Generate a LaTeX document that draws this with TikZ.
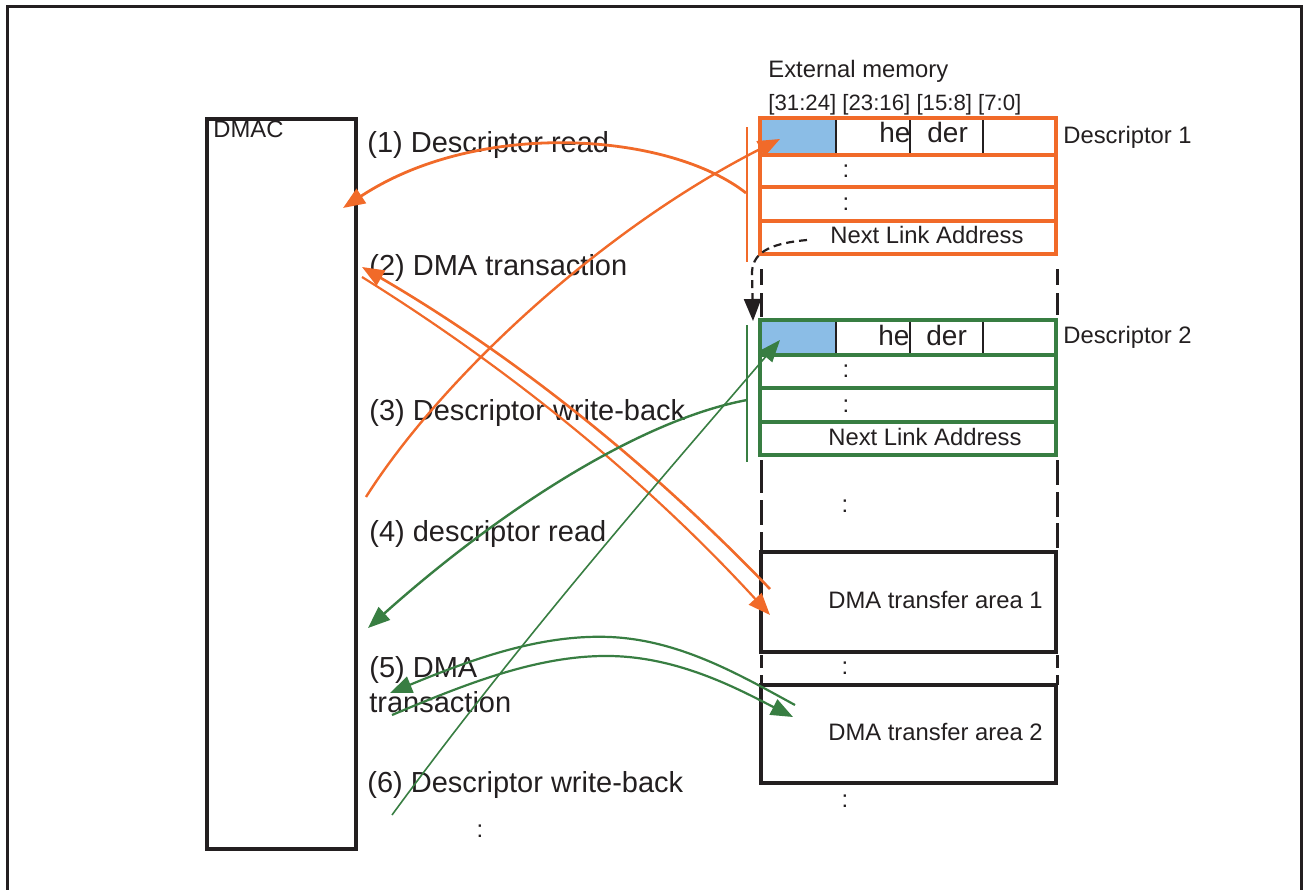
\documentclass[tikz,border=0pt]{standalone}
\usepackage{fontspec}
\setmainfont{Liberation Sans}
\usetikzlibrary{arrows.meta}
\definecolor{orng}{RGB}{241,106,41}
\definecolor{grn}{RGB}{56,126,66}
\definecolor{cellblue}{RGB}{139,189,230}
\definecolor{ink}{RGB}{35,31,32}
\tikzset{
  lbl/.style={inner sep=0pt, anchor=base west, font=\fontsize{14.5}{17}\selectfont, text=ink},
  mem/.style={inner sep=0pt, anchor=base west, font=\fontsize{11.9}{14}\selectfont, text=ink},
  bitlbl/.style={inner sep=0pt, anchor=base west, font=\fontsize{11.1}{13}\selectfont, text=ink},
  hdr/.style={inner sep=0pt, anchor=base west, font=\fontsize{14}{16}\selectfont, text=ink},
  dotlbl/.style={inner sep=0pt, anchor=base, font=\fontsize{11.9}{14}\selectfont, text=ink},
  tipa/.style={-{Triangle[length=11pt,width=8.5pt]}},
  boxline/.style={draw=ink, line width=1.8pt},
  memdash/.style={draw=ink, line width=1.5pt},
  divline/.style={draw=ink, line width=1pt},
}
\begin{document}
\begin{tikzpicture}[x=0.5pt,y=-0.5pt]
\useasboundingbox (0,0) rectangle (1303,890);
% outer frame
\draw[ink, line width=1.5pt] (7,890) -- (7,6) -- (1301,6) -- (1301,890);
% DMAC box
\draw[boxline] (207,119) rectangle (356,849);
\node[mem] (dmac) at (213,137) {DMAC};

% Descriptor 1
\fill[cellblue] (760,118) rectangle (836,155);
\draw[divline] (836,118) -- (836,155) (910,118) -- (910,155) (983,118) -- (983,155);
\draw[orng, line width=2pt] (760,118) rectangle (1056,254);
\draw[orng, line width=1.8pt] (760,155) -- (1056,155) (760,187) -- (1056,187) (760,221) -- (1056,221);
% Descriptor 2
\fill[cellblue] (760,320) rectangle (836,355);
\draw[divline] (836,320) -- (836,355) (910,320) -- (910,355) (983,320) -- (983,355);
\draw[grn, line width=1.8pt] (760,320) rectangle (1056,455);
\draw[grn, line width=1.6pt] (760,355) -- (1056,355) (760,388) -- (1056,388) (760,422) -- (1056,422);

% memory dashed borders
\draw[memdash] (761,269) -- (761,285) (761,293) -- (761,317)
  (761,460) -- (761,493) (761,500) -- (761,525) (761,532) -- (761,552)
  (761,655) -- (761,668) (761,675) -- (761,685);
\draw[memdash] (1057,269) -- (1057,285) (1057,293) -- (1057,315)
  (1057,460) -- (1057,485) (1057,492) -- (1057,517) (1057,523) -- (1057,548)
  (1057,655) -- (1057,668) (1057,675) -- (1057,685);
% transfer areas
\draw[boxline] (761,552) rectangle (1056,652);
\draw[boxline] (761,685) rectangle (1056,783);

% side marker lines
\draw[orng, line width=0.8pt] (747,127) -- (747,262);
\draw[grn, line width=0.8pt] (747,325) -- (747,462);

% memory texts
\node[mem] (extmem) at (768,77) {External memory};
\node[bitlbl] (bits) at (768,110) {[31:24] [23:16] [15:8] [7:0]};
\node[mem] (d1lbl) at (1063,143) {Descriptor 1};
\node[mem] (d2lbl) at (1063,343) {Descriptor 2};
\node[hdr] (h1a) at (879,142) {he};
\node[hdr] (h1b) at (927,142) {der};
\node[hdr] (h2a) at (878,345) {he};
\node[hdr] (h2b) at (926,345) {der};
\node[dotlbl] (d1r2) at (846,177) {:};
\node[dotlbl] (d1r3) at (846,210) {:};
\node[dotlbl] (d2r2) at (846,377) {:};
\node[dotlbl] (d2r3) at (846,412) {:};
\node[mem] (nla1) at (830,243) {Next Link Address};
\node[mem] (nla2) at (828,445) {Next Link Address};
\node[dotlbl] (gap1) at (845,512) {:};
\node[dotlbl] (gap2) at (845,674) {:};
\node[dotlbl] (gap3) at (845,807) {:};
\node[dotlbl] (gap4) at (480,837) {:};
\node[mem] (ta1) at (828,608) {DMA transfer area 1};
\node[mem] (ta2) at (828,740) {DMA transfer area 2};

% step labels
\node[lbl] (s1) at (367,152) {(1) Descriptor read};
\node[lbl] (s2) at (369,275) {(2) DMA transaction};
\node[lbl] (s3) at (369,420) {(3) Descriptor write-back};
\node[lbl] (s4) at (369,541) {(4) descriptor read};
\node[lbl] (s5a) at (369,677) {(5) DMA};
\node[lbl] (s5b) at (369,712) {transaction};
\node[lbl] (s6) at (367,792) {(6) Descriptor write-back};

% connector end points
\coordinate (o1s) at (746,193);  \coordinate (o1e) at (343,208);
\coordinate (o3s) at (366,497);  \coordinate (o3e) at (780,139);
\coordinate (o2as) at (770,589); \coordinate (o2ae) at (362,267);
\coordinate (o2bs) at (362,277); \coordinate (o2be) at (770,615);
\coordinate (g4s) at (747,400);  \coordinate (g4e) at (368,628);
\coordinate (g6s) at (392,815);  \coordinate (g6e) at (780,340);
\coordinate (g5as) at (795,705); \coordinate (g5ae) at (390,693);
\coordinate (g5bs) at (392,715); \coordinate (g5be) at (793,717);
\coordinate (nls) at (807,240);  \coordinate (nle) at (753,321);

% link arrow
\draw[ink, line width=1.1pt, dash pattern=on 4pt off 2.5pt, tipa]
  (nls) .. controls (775,243) and (753,250) .. (752,272) -- (nle);

% orange connectors
\draw[orng, line width=1.4pt, tipa] (o1s) .. controls (670,133) and (480,118) .. (o1e);
\draw[orng, line width=1.2pt, tipa] (o3s) .. controls (440,380) and (600,230) .. (o3e);
\draw[orng, line width=1.3pt, tipa] (o2as) .. controls (649,463) and (513,355) .. (o2ae);
\draw[orng, line width=1.1pt, tipa] (o2bs) .. controls (513,371) and (649,483) .. (o2be);
% green connectors
\draw[grn, line width=1.2pt, tipa] (g4s) .. controls (640,420) and (500,510) .. (g4e);
\draw[grn, line width=0.8pt, tipa] (g6s) .. controls (520,640) and (660,480) .. (g6e);
\draw[grn, line width=1.1pt, tipa] (g5as) .. controls (740,675) and (680,640) .. (610,637)
  .. controls (540,634) and (470,660) .. (g5ae);
\draw[grn, line width=1.1pt, tipa] (g5bs) .. controls (470,682) and (540,655) .. (610,656)
  .. controls (680,657) and (740,690) .. (g5be);
\end{tikzpicture}
\end{document}
